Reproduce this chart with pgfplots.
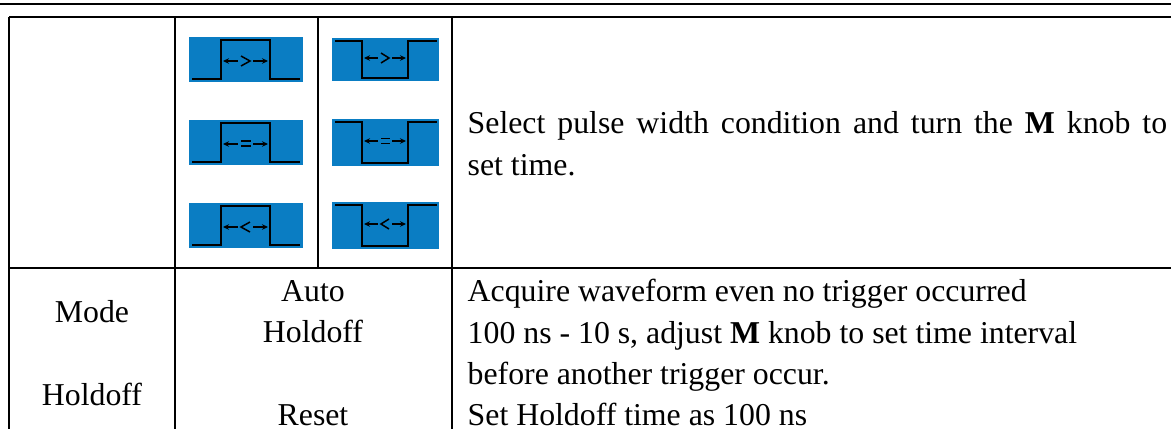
\documentclass[border=0pt]{standalone}
\usepackage{pgfplots}
\pgfplotsset{compat=1.18}
\usepackage{fontspec}
\setmainfont{Liberation Serif}
\usetikzlibrary{arrows.meta}
\definecolor{blu}{HTML}{0A7DC3}
\newcommand{\tx}[3]{\node[anchor=base,inner sep=0pt,font=\fontsize{31.8}{36}\selectfont] at (axis cs:#1,#2) {#3};}
\newcommand{\txl}[3]{\node[anchor=base west,inner sep=0pt,font=\fontsize{31.8}{36}\selectfont] at (axis cs:#1,#2) {#3};}
\tikzset{>={Stealth[length=6pt,width=5.5pt]}}
\begin{document}
\begin{tikzpicture}
\begin{axis}[scale only axis,width=1171pt,height=429pt,xmin=0,xmax=1171,ymin=0,ymax=429,y dir=reverse,hide axis,clip=true]
% page extent
\addplot[draw=none,fill=white] coordinates {(0,0) (1171,0) (1171,429) (0,429)} --cycle;
% table rules
\addplot[black,line width=1.9pt] coordinates {(0,4) (1171,4)};
\addplot[black,line width=1.9pt] coordinates {(9,17) (1171,17)};
\addplot[black,line width=1.9pt] coordinates {(9,268) (1171,268)};
\addplot[black,line width=1.9pt] coordinates {(9,17) (9,429)};
\addplot[black,line width=1.9pt] coordinates {(175,17) (175,429)};
\addplot[black,line width=1.9pt] coordinates {(318,17) (318,268)};
\addplot[black,line width=1.9pt] coordinates {(452,17) (452,429)};
% blue tiles
\addplot[draw=none,fill=blu] coordinates {(189,37) (303,37) (303,82) (189,82)} --cycle;
\addplot[draw=none,fill=blu] coordinates {(189,120) (303,120) (303,165) (189,165)} --cycle;
\addplot[draw=none,fill=blu] coordinates {(189,203) (303,203) (303,248) (189,248)} --cycle;
\addplot[draw=none,fill=blu] coordinates {(332,38) (439,38) (439,81) (332,81)} --cycle;
\addplot[draw=none,fill=blu] coordinates {(332,119) (439,119) (439,166) (332,166)} --cycle;
\addplot[draw=none,fill=blu] coordinates {(332,202) (439,202) (439,249) (332,249)} --cycle;
% pulses
\addplot[black,line width=2.2pt] coordinates {(192,79) (221,79) (221,40) (270,40) (270,79) (300,79)};
\addplot[black,line width=2.2pt] coordinates {(192,162) (221,162) (221,123) (270,123) (270,162) (300,162)};
\addplot[black,line width=2.2pt] coordinates {(192,245) (221,245) (221,206) (270,206) (270,245) (300,245)};
\addplot[black,line width=2.2pt] coordinates {(335,41) (362,41) (362,78) (408,78) (408,41) (437,41)};
\addplot[black,line width=2.2pt] coordinates {(335,122) (362,122) (362,163) (408,163) (408,122) (437,122)};
\addplot[black,line width=2.2pt] coordinates {(335,205) (362,205) (362,246) (408,246) (408,205) (437,205)};
% arrows
\addplot[black,line width=1.2pt,<-] coordinates {(223,61) (238,61)};
\addplot[black,line width=1.2pt,->] coordinates {(253,61) (268,61)};
\addplot[black,line width=1.5pt] coordinates {(241,56) (250,61) (241,66)};
\addplot[black,line width=1.2pt,<-] coordinates {(223,144) (238,144)};
\addplot[black,line width=1.2pt,->] coordinates {(253,144) (268,144)};
\addplot[black,line width=1.8pt] coordinates {(241,141) (251,141)};
\addplot[black,line width=1.8pt] coordinates {(241,146) (251,146)};
\addplot[black,line width=1.2pt,<-] coordinates {(223,227) (238,227)};
\addplot[black,line width=1.2pt,->] coordinates {(253,227) (268,227)};
\addplot[black,line width=1.5pt] coordinates {(250,222) (241,227) (250,232)};
\addplot[black,line width=1.2pt,<-] coordinates {(364,58) (378,58)};
\addplot[black,line width=1.2pt,->] coordinates {(392,58) (406,58)};
\addplot[black,line width=1.5pt] coordinates {(381,53) (389,58) (381,63)};
\addplot[black,line width=1.2pt,<-] coordinates {(364,141) (378,141)};
\addplot[black,line width=1.2pt,->] coordinates {(392,141) (406,141)};
\addplot[black,line width=1.8pt] coordinates {(381,138.5) (390,138.5)};
\addplot[black,line width=1.8pt] coordinates {(381,143.5) (390,143.5)};
\addplot[black,line width=1.2pt,<-] coordinates {(364,224) (378,224)};
\addplot[black,line width=1.2pt,->] coordinates {(392,224) (406,224)};
\addplot[black,line width=1.5pt] coordinates {(389,219) (381,224) (389,229)};
% text
\tx{92}{322}{Mode}
\tx{92}{405}{Holdoff}
\tx{313}{301}{Auto}
\tx{313}{342}{Holdoff}
\tx{313}{425.5}{Reset}
\txl{467.5}{133.5}{\makebox[699.5pt][s]{Select pulse width condition and turn the \textbf{M} knob to}}
\txl{467.5}{175}{set time.}
\txl{467.5}{301}{Acquire waveform even no trigger occurred}
\txl{467.5}{343}{100 ns - 10 s, adjust \textbf{M} knob to set time interval}
\txl{467.5}{384.5}{before another trigger occur.}
\txl{467.5}{425.5}{Set Holdoff time as 100 ns}
\end{axis}
\end{tikzpicture}
\end{document}
